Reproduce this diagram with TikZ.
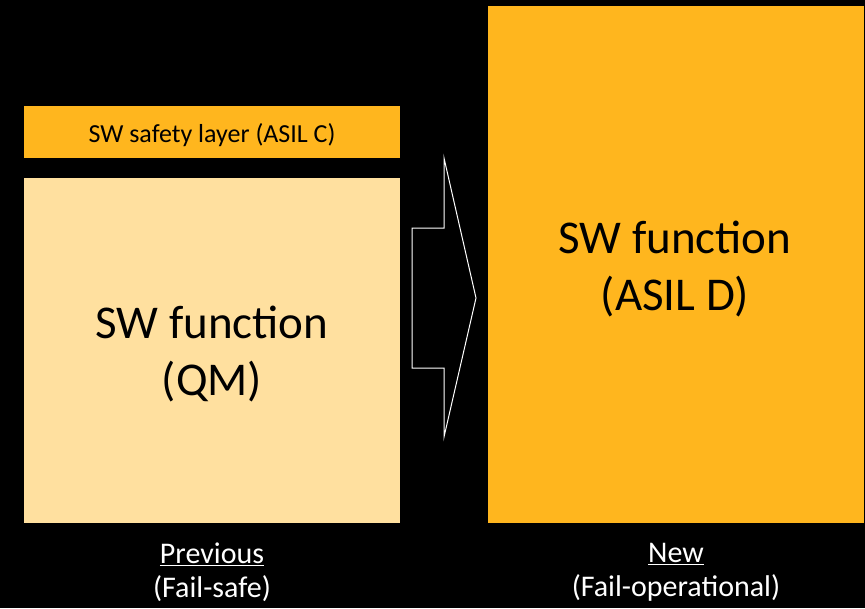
\documentclass[tikz,border=0pt]{standalone}
\usepackage{fontspec}
\setmainfont{Carlito}
\definecolor{asilorange}{HTML}{FFB61E}
\definecolor{qmlight}{HTML}{FFE09F}
\begin{document}
\begin{tikzpicture}[x=1pt,y=-1pt,
  bigtext/.style={font=\fontsize{47}{57}\selectfont, align=center, text=black, inner sep=0pt},
  labeltext/.style={font=\fontsize{30}{34}\selectfont, align=center, text=white, inner sep=0pt}]
  % background
  \fill[black] (0,0) rectangle (865,608);
  \useasboundingbox (0,0) rectangle (865,608);
  % left stack: safety layer on top of the QM function
  \fill[asilorange] (24,106) rectangle (400,158);
  \node[font=\fontsize{26}{30}\selectfont, inner sep=0pt] (layer) at (212,135) {SW safety layer (ASIL C)};
  \fill[qmlight] (24,178) rectangle (400,523);
  \node[bigtext] (qm) at (212,354) {SW function\\(QM)};
  % right block: the ASIL D function
  \fill[asilorange] (488,6) rectangle (864,523);
  \node[bigtext] (asild) at (675,269) {SW function\\(ASIL D)};
  % transition arrow
  \draw[white, line width=1pt, fill=black, line join=miter]
    (412,228) -- (444,228) -- (444,158) -- (476,298) -- (444,437) -- (444,368) -- (412,368) -- cycle;
  % captions
  \node[labeltext] (prev) at (212,572) {\underline{Previous}\\(Fail-safe)};
  \node[labeltext] (new) at (676,572) {\underline{New}\\(Fail-operational)};
\end{tikzpicture}
\end{document}
